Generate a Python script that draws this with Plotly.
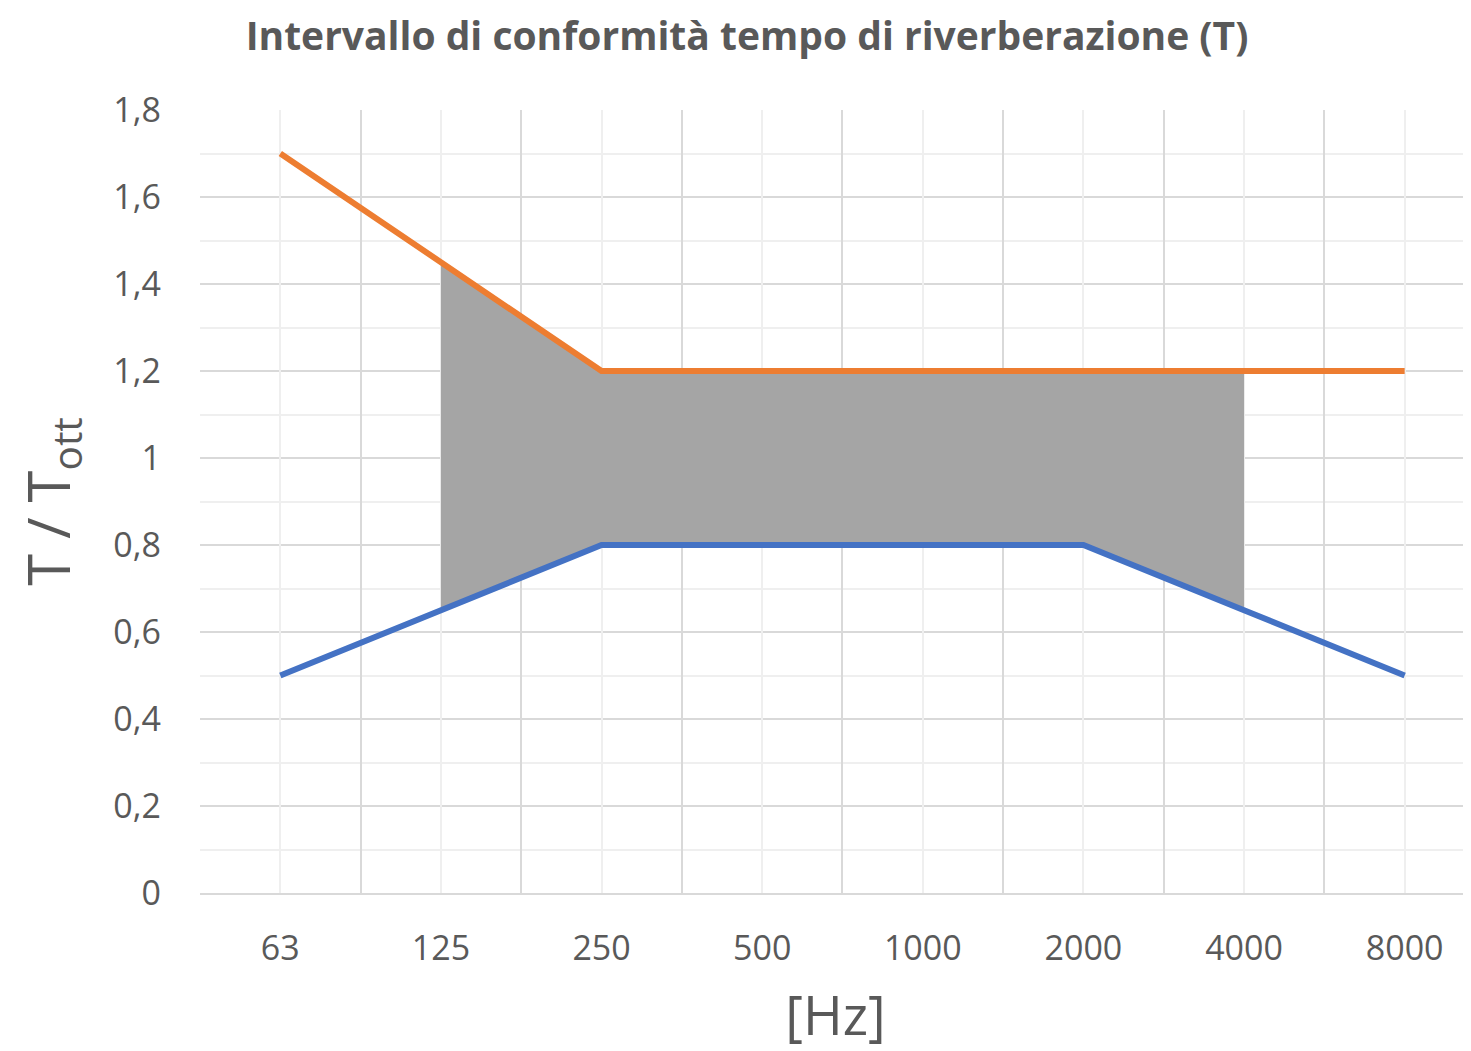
import plotly.graph_objects as go

categories = ["63", "125", "250", "500", "1000", "2000", "4000", "8000"]
upper = [1.7, 1.45, 1.2, 1.2, 1.2, 1.2, 1.2, 1.2]
lower = [0.5, 0.65, 0.8, 0.8, 0.8, 0.8, 0.65, 0.5]
band_categories = ["125", "250", "500", "1000", "2000", "4000"]
band_upper = [1.45, 1.2, 1.2, 1.2, 1.2, 1.2]
band_lower = [0.65, 0.8, 0.8, 0.8, 0.8, 0.65]

FONT = "Open Sans, sans-serif"
TXT = "#595959"

fig = go.Figure()
# invisible trace to give the overlay axis its categories
fig.add_trace(go.Scatter(x=categories, y=upper, xaxis="x2", mode="lines",
                         line=dict(width=0), opacity=0, showlegend=False, hoverinfo="skip"))
fig.add_trace(go.Scatter(x=band_categories, y=band_lower, mode="lines",
                         line=dict(width=0, color="#A5A5A5"), showlegend=False, hoverinfo="skip"))
fig.add_trace(go.Scatter(x=band_categories, y=band_upper, mode="lines", fill="tonexty",
                         fillcolor="#A5A5A5", line=dict(width=0, color="#A5A5A5"),
                         showlegend=False, hoverinfo="skip"))
fig.add_trace(go.Scatter(x=categories, y=upper, mode="lines",
                         line=dict(color="#ED7D31", width=6), showlegend=False))
fig.add_trace(go.Scatter(x=categories, y=lower, mode="lines",
                         line=dict(color="#4472C4", width=6), showlegend=False))

W, H = 1463, 1043
xr = [-0.5, 7.413]
fig.update_layout(
    width=W, height=H,
    margin=dict(l=192, r=0, t=102, b=158),
    paper_bgcolor="white", plot_bgcolor="white",
    separators=",.",
    font=dict(family=FONT, color=TXT),
    title=dict(text="<b>Intervallo di conformità tempo di riverberazione (T)</b>",
               font=dict(size=39, color=TXT, family=FONT),
               x=739 / W, xref="container", xanchor="center",
               y=1 - 28 / H, yref="container", yanchor="middle"),
    xaxis=dict(type="category", categoryorder="array", categoryarray=categories,
               range=xr, tickson="boundaries", ticks="", automargin=False,
               showgrid=True, gridcolor="#d9d9d9", gridwidth=1.5,
               showline=True, linecolor="#d9d9d9", linewidth=2,
               tickfont=dict(size=34, color=TXT), ticklabelstandoff=24,
               title=dict(text="[Hz]", font=dict(size=54, color=TXT), standoff=46)),
    xaxis2=dict(type="category", categoryorder="array", categoryarray=categories,
                overlaying="x", range=xr, showticklabels=False, ticks="", automargin=False,
                showgrid=True, gridcolor="#efefef", gridwidth=1.5, zeroline=False),
    yaxis=dict(range=[0, 1.8], dtick=0.2, tick0=0, ticks="", automargin=False,
               showgrid=True, gridcolor="#d9d9d9", gridwidth=1.5, zeroline=False,
               minor=dict(dtick=0.1, tick0=0, showgrid=True, gridcolor="#efefef", gridwidth=1.5),
               tickfont=dict(size=34, color=TXT), ticklabelstandoff=38,
               title=dict(text="T / T<sub>ott</sub>", font=dict(size=58, color=TXT), standoff=35)),
)

fig.write_html("out.html")
